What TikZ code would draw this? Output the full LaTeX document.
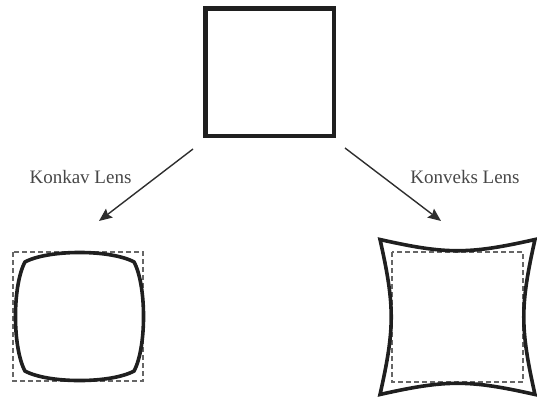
\documentclass[tikz,border=0pt]{standalone}
\usepackage{fontspec}
\setmainfont{Liberation Serif}
\usetikzlibrary{arrows.meta}
\tikzset{
  frame/.style={draw=black!88, line width=4.5pt, minimum width=128.5pt, minimum height=127.5pt, inner sep=0pt},
  lenslabel/.style={text=black!72, font=\fontsize{19}{22}\selectfont, inner sep=0pt},
  conn/.style={draw=black!82, line width=1.4pt, -{Stealth[length=13pt,width=11pt,inset=2pt]}},
  guide/.style={draw=black!60, line width=1.4pt, dash pattern=on 5pt off 3pt},
  distorted/.style={draw=black!88, line width=3.6pt, line join=round}
}
\begin{document}
\begin{tikzpicture}[x=1pt, y=-1pt]
\useasboundingbox (0,0) rectangle (537,399);
% top square
\node[frame] (orig) at (269.5,72) {};
% labels
\node[lenslabel] (konkav) at (80.5,177) {Konkav Lens};
\node[lenslabel] (konveks) at (465,177) {Konveks Lens};
% arrows
\coordinate (l1) at (193,149);
\coordinate (l2) at (99,221);
\coordinate (r1) at (345,148);
\coordinate (r2) at (441,221);
\draw[conn] (l1) -- (l2);
\draw[conn] (r1) -- (r2);
% left: dashed reference and barrel shape
\draw[guide] (13,252) rectangle (143,381);
\def\cx{79.5}\def\cy{316.5}\def\s{73.5}\def\K{0.129}
\draw[distorted]
  plot[domain=-1:1, samples=41, variable=\t] ({\cx+\s*\t*(1-\K*(\t*\t+1))}, {\cy-\s*(1-\K*(\t*\t+1))})
  -- plot[domain=-1:1, samples=41, variable=\t] ({\cx+\s*(1-\K*(\t*\t+1))}, {\cy+\s*\t*(1-\K*(\t*\t+1))})
  -- plot[domain=1:-1, samples=41, variable=\t] ({\cx+\s*\t*(1-\K*(\t*\t+1))}, {\cy+\s*(1-\K*(\t*\t+1))})
  -- plot[domain=1:-1, samples=41, variable=\t] ({\cx-\s*(1-\K*(\t*\t+1))}, {\cy+\s*\t*(1-\K*(\t*\t+1))})
  -- cycle;
% right: dashed reference and pincushion shape
\draw[guide] (392,252) rectangle (523,382);
\def\px{457.5}\def\py{317}\def\ps{55.1}\def\PK{0.203}
\draw[distorted, line join=miter]
  plot[domain=-1:1, samples=41, variable=\t] ({\px+\ps*\t*(1+\PK*(\t*\t+1))}, {\py-\ps*(1+\PK*(\t*\t+1))})
  -- plot[domain=-1:1, samples=41, variable=\t] ({\px+\ps*(1+\PK*(\t*\t+1))}, {\py+\ps*\t*(1+\PK*(\t*\t+1))})
  -- plot[domain=1:-1, samples=41, variable=\t] ({\px+\ps*\t*(1+\PK*(\t*\t+1))}, {\py+\ps*(1+\PK*(\t*\t+1))})
  -- plot[domain=1:-1, samples=41, variable=\t] ({\px-\ps*(1+\PK*(\t*\t+1))}, {\py+\ps*\t*(1+\PK*(\t*\t+1))})
  -- cycle;
\end{tikzpicture}
\end{document}
